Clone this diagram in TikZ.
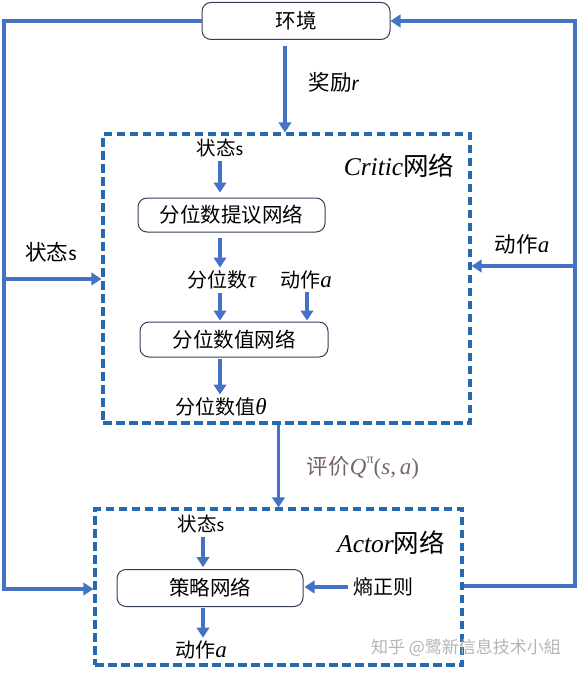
\documentclass[tikz,border=0pt]{standalone}
\usepackage{fontspec}
\setmainfont{Carlito}
\newfontfamily\cjk{Noto Sans CJK SC}
\newfontfamily\tnr{Liberation Serif}
\newcommand\mi[1]{{\tnr\itshape\fontsize{23}{24}\selectfont #1}}
\usetikzlibrary{arrows.meta}
\definecolor{flowblue}{RGB}{68,114,196}
\definecolor{dashblue}{RGB}{36,106,176}
\definecolor{boxedge}{RGB}{50,62,88}
\definecolor{qgray}{RGB}{118,100,100}
\definecolor{wmgray}{RGB}{180,180,180}
\begin{document}
\begin{tikzpicture}[x=1pt,y=-1pt,
  flow/.style={draw=flowblue,line width=3.6pt,line join=miter,-{Triangle[length=10pt,width=12.5pt]}},
  rbox/.style={draw=boxedge,line width=1pt,rounded corners=9pt,fill=white,inner sep=0pt,font=\fontsize{20.5}{24}\selectfont\cjk},
  dbox/.style={draw=dashblue,line width=3.2pt,dash pattern=on 8.5pt off 4.5pt,inner sep=0pt},
  lbl/.style={inner sep=1pt,font=\fontsize{19.5}{22}\selectfont},
  side/.style={inner sep=1pt,font=\fontsize{21.5}{24}\selectfont},
  title/.style={inner sep=1pt,font=\fontsize{25.5}{30}\selectfont}]
\useasboundingbox (0,0) rectangle (578,674);
% main boxes
\node[rbox,minimum width=188pt,minimum height=37pt] (env) at (296,21) {环境\hspace{16pt}};
\node[dbox,minimum width=367pt,minimum height=289pt] (critic) at (286.5,278.5) {};
\node[dbox,minimum width=367pt,minimum height=156pt] (actor) at (278.5,587) {};
% critic contents
\node[title] (ctitle) at (399,166) {{\tnr\itshape Critic}{\cjk 网络}};
\node[lbl] (s1) at (220,148) {{\cjk 状态}s};
\node[rbox,minimum width=187pt,minimum height=34pt] (p1) at (231.5,215) {分位数提议网络\hspace{18pt}};
\node[lbl,font=\fontsize{20}{22}\selectfont] (tau) at (222,280) {{\cjk 分位数}\mi{τ}};
\node[lbl,font=\fontsize{20}{22}\selectfont] (act) at (306,280) {{\cjk 动作}\mi{a}};
\node[rbox,minimum width=188pt,minimum height=35pt] (p2) at (234,339.5) {分位数值网络\hspace{16pt}};
\node[lbl,font=\fontsize{20}{22}\selectfont] (theta) at (221,407) {{\cjk 分位数值}\mi{θ}};
% actor contents
\node[title] (atitle) at (391,543) {{\tnr\itshape Actor}{\cjk 网络}};
\node[lbl] (s2) at (201,524) {{\cjk 状态}s};
\node[rbox,minimum width=186pt,minimum height=37pt] (pol) at (210,588) {策略网络\hspace{8pt}};
\node[side,font=\fontsize{20}{22}\selectfont\cjk] (ent) at (383,587) {熵正则};
\node[lbl,font=\fontsize{20}{22}\selectfont] (a2) at (201,650) {{\cjk 动作}\mi{a}};
% side labels
\node[side] (rew) at (334,82) {{\cjk 奖励}\textit{r}};
\node[side] (sl) at (51,252) {{\cjk 状态}s};
\node[side] (ar) at (522,244) {{\cjk 动作}\mi{a}};
\node[side] (q) at (363,468) {\color{qgray}{\cjk 评价}\mi{Q}\raisebox{0.5em}{\fontsize{14}{14}\selectfont\tnr π}{\tnr\fontsize{23}{24}\selectfont(}\mi{s}{\tnr\fontsize{23}{24}\selectfont,\,}\mi{a}{\tnr\fontsize{23}{24}\selectfont)}};
\node[inner sep=0pt,font=\fontsize{17}{20}\selectfont\cjk,text=wmgray] (wm) at (466,648) {知乎 @鹭新信息技术小組};
% coordinates for outer lines
\coordinate (lx) at (4,0);
\coordinate (rx) at (575,0);
\coordinate (cs) at (0,279);
\coordinate (ca) at (0,266);
\coordinate (ay) at (0,589);
\coordinate (ry) at (0,586);
% connectors
\draw[flow,shorten <=6pt] ([xshift=-11pt]env.south) -- ([xshift=-11pt]env.south |- critic.north);
\draw[flow] (env.west) -| (lx |- ay) -- (actor.west |- ay);
\draw[flow] (lx |- cs) -- (critic.west |- cs);
\draw[flow] (actor.east |- ry) -| (rx |- env) -- (env.east);
\draw[flow] (rx |- ca) -- (critic.east |- ca);
\draw[flow] (critic.south -| actor.north) -- (actor.north);
% critic internal arrows
\draw[flow,shorten <=3pt,shorten >=5pt] (s1.south) -- (s1.south |- p1.north);
\draw[flow,shorten <=5pt,shorten >=2pt] (p1.south -| s1) -- (tau.north -| s1);
\draw[flow,shorten <=2pt,shorten >=1pt] (tau.south -| s1) -- (p2.north -| s1);
\draw[flow,shorten <=2pt,shorten >=1pt] (act.south -| 307,0) -- (p2.north -| 307,0);
\draw[flow,shorten <=1pt,shorten >=2pt] (p2.south -| s1) -- (theta.north -| s1);
% actor internal arrows
\draw[flow,shorten <=3pt,shorten >=2pt] ([xshift=2pt]s2.south) -- ([xshift=2pt]s2.south |- pol.north);
\draw[flow,shorten <=1pt,shorten >=2pt] ([xshift=2pt]s2.south |- pol.south) -- ([xshift=2pt]s2.south |- a2.north);
\draw[flow,shorten <=4pt,shorten >=1pt] (ent.west) -- (pol.east |- ent.west);
\end{tikzpicture}
\end{document}
